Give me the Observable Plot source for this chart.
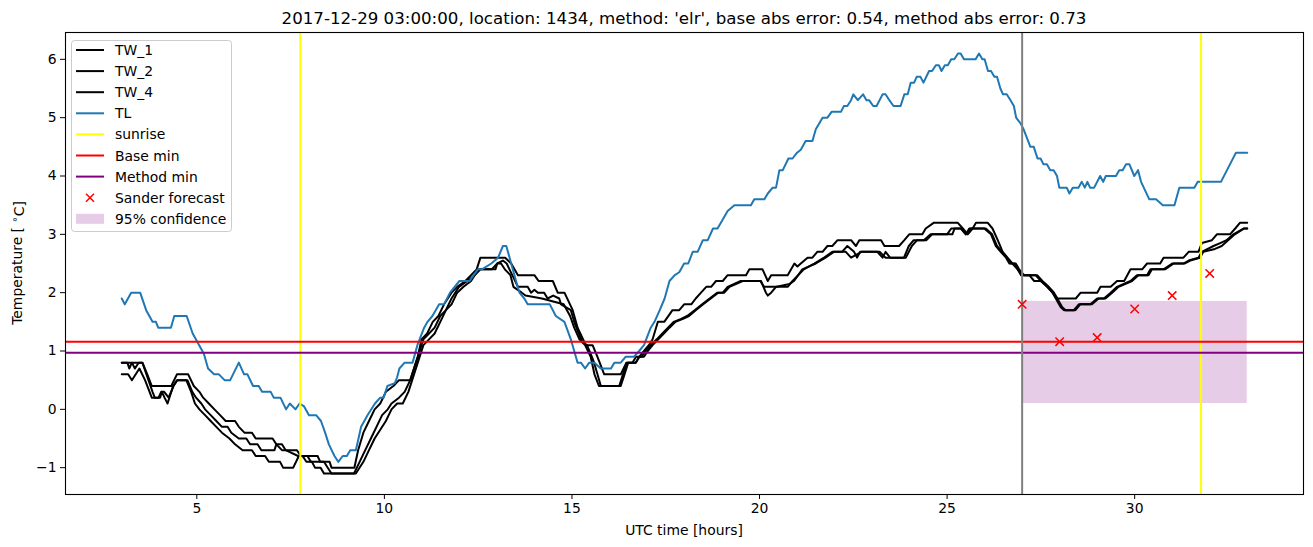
<!DOCTYPE html>
<html><head><meta charset="utf-8">
<script src="https://cdn.jsdelivr.net/npm/d3@7"></script>
<script src="https://cdn.jsdelivr.net/npm/@observablehq/plot@0.6"></script>
<style>body{margin:0;background:#fff} svg{display:block}</style>
</head><body><div id="chart"></div>
<script>
// [hour, temperature] pairs
const TW_1 = [[3.0,0.8],[3.55,0.8],[3.68,0.6],[3.8,0.4],[4.32,0.4],[4.47,0.6],[4.77,0.6],[4.92,0.4],[5.07,0.3],[5.17,0.2],[5.32,0.1],[5.47,0.0],[5.62,-0.1],[5.77,-0.2],[6.02,-0.2],[6.12,-0.3],[6.27,-0.4],[6.47,-0.4],[6.57,-0.5],[7.02,-0.5],[7.12,-0.6],[7.27,-0.7],[7.67,-0.7],[7.77,-0.8],[8.22,-0.8],[8.29,-0.9],[8.54,-0.9],[8.59,-1.0],[9.2,-1.0],[9.3,-0.7],[9.44,-0.4],[9.59,-0.2],[9.74,0.0],[9.89,0.1],[10.04,0.3],[10.24,0.4],[10.39,0.5],[10.69,0.5],[10.79,0.7],[10.89,0.9],[10.99,1.2],[11.14,1.3],[11.29,1.5],[11.44,1.6],[11.59,1.8],[11.79,2.0],[11.94,2.1],[12.16,2.2],[12.31,2.3],[12.46,2.4],[12.56,2.6],[13.22,2.6],[13.38,2.5],[13.56,2.3],[14.0,2.3],[14.11,2.2],[14.49,2.2],[14.62,2.0],[14.8,2.0],[15.02,1.7],[15.15,1.4],[15.37,1.1],[15.55,1.1],[15.68,0.9],[15.86,0.6],[16.3,0.6],[16.45,0.8],[16.7,0.8],[16.79,0.9],[16.92,1.0],[17.05,1.1],[17.15,1.2],[17.29,1.5],[17.46,1.5],[17.68,1.7],[17.86,1.7],[17.99,1.8],[18.18,1.8],[18.3,1.9],[18.44,2.0],[18.58,2.1],[18.71,2.1],[18.84,2.2],[19.02,2.2],[19.15,2.3],[19.64,2.3],[19.73,2.4],[20.08,2.4],[20.22,2.2],[20.31,2.3],[20.75,2.3],[20.93,2.5],[21.01,2.45],[21.1,2.5],[21.28,2.6],[21.41,2.6],[21.54,2.7],[21.68,2.7],[21.81,2.8],[21.94,2.8],[22.08,2.9],[22.44,2.9],[22.57,2.8],[22.66,2.9],[23.24,2.9],[23.33,2.8],[23.72,2.8],[23.86,2.9],[23.99,3.0],[24.34,3.0],[24.43,3.1],[24.65,3.2],[25.28,3.2],[25.42,3.1],[25.55,3.0],[25.68,3.1],[25.77,3.2],[26.08,3.2],[26.21,3.1],[26.35,2.9],[26.48,2.7],[26.61,2.6],[26.74,2.5],[26.88,2.4],[26.97,2.3],[27.19,2.3],[27.32,2.2],[27.5,2.2],[27.67,2.1],[27.81,2.0],[27.94,1.9],[28.43,1.9],[28.56,2.0],[29.0,2.0],[29.09,2.1],[29.36,2.1],[29.53,2.2],[29.72,2.2],[29.89,2.4],[30.2,2.4],[30.33,2.5],[30.68,2.5],[30.77,2.6],[31.3,2.6],[31.44,2.7],[31.7,2.7],[31.79,2.85],[32.06,2.9],[32.19,3.0],[32.54,3.0],[32.68,3.1],[32.81,3.2],[33.0,3.2]];
const TW_2 = [[3.0,0.8],[3.15,0.8],[3.2,0.7],[3.27,0.8],[3.35,0.7],[3.45,0.8],[3.55,0.8],[3.82,0.3],[3.88,0.2],[3.98,0.2],[4.05,0.3],[4.13,0.3],[4.25,0.2],[4.38,0.4],[4.48,0.5],[4.75,0.5],[4.88,0.3],[4.98,0.2],[5.12,0.1],[5.22,0.0],[5.37,-0.1],[5.52,-0.2],[5.67,-0.3],[5.82,-0.3],[5.92,-0.4],[6.12,-0.5],[6.32,-0.5],[6.42,-0.6],[6.62,-0.6],[6.72,-0.7],[7.07,-0.7],[7.12,-0.6],[7.27,-0.6],[7.37,-0.7],[7.7,-0.8],[7.95,-0.8],[8.04,-0.9],[8.39,-0.9],[8.49,-1.0],[8.59,-1.1],[9.19,-1.1],[9.34,-0.9],[9.49,-0.7],[9.64,-0.5],[9.79,-0.3],[9.94,-0.1],[10.09,0.0],[10.19,0.1],[10.39,0.2],[10.54,0.3],[10.69,0.5],[10.84,0.8],[10.94,1.0],[11.04,1.2],[11.19,1.3],[11.34,1.4],[11.49,1.6],[11.64,1.7],[11.79,1.9],[11.99,2.1],[12.21,2.2],[12.41,2.3],[12.56,2.4],[12.86,2.4],[13.01,2.5],[13.16,2.55],[13.26,2.5],[13.41,2.3],[13.56,2.1],[13.82,2.1],[13.91,2.0],[14.0,2.05],[14.09,2.0],[14.26,2.0],[14.35,1.9],[14.5,1.95],[14.66,1.9],[14.71,1.8],[14.97,1.7],[15.06,1.5],[15.15,1.35],[15.28,1.15],[15.4,1.1],[15.5,0.95],[15.59,0.8],[15.68,0.6],[15.77,0.4],[16.26,0.4],[16.36,0.6],[16.46,0.8],[16.61,0.8],[16.71,0.9],[16.86,0.9],[16.96,1.0],[17.1,1.1],[17.26,1.2],[17.41,1.3],[17.56,1.4],[17.71,1.5],[17.91,1.55],[18.07,1.6],[18.27,1.7],[18.47,1.8],[18.67,1.9],[18.87,2.0],[19.02,2.0],[19.15,2.1],[19.5,2.2],[20.04,2.2],[20.17,2.0],[20.22,1.95],[20.31,2.0],[20.44,2.1],[20.75,2.1],[20.88,2.2],[21.18,2.4],[21.46,2.5],[21.72,2.6],[21.94,2.7],[22.2,2.7],[22.34,2.8],[22.52,2.7],[22.6,2.6],[22.68,2.7],[23.14,2.7],[23.28,2.6],[23.36,2.7],[23.48,2.6],[23.85,2.6],[23.98,2.8],[24.11,2.9],[24.38,2.9],[24.56,3.0],[25.0,3.0],[25.11,3.1],[25.37,3.1],[25.5,3.0],[25.59,3.1],[25.99,3.1],[26.17,3.0],[26.3,2.8],[26.43,2.7],[26.57,2.6],[26.66,2.5],[26.79,2.5],[26.88,2.4],[27.01,2.3],[27.36,2.3],[27.5,2.2],[27.67,2.1],[27.81,2.0],[28.03,1.75],[28.12,1.7],[28.38,1.7],[28.51,1.8],[28.82,1.8],[29.0,1.9],[29.18,1.9],[29.36,2.0],[29.53,2.1],[29.89,2.2],[30.06,2.3],[30.33,2.3],[30.42,2.4],[30.77,2.4],[31.0,2.5],[31.3,2.5],[31.44,2.55],[31.7,2.6],[31.79,2.7],[32.1,2.8],[32.28,2.85],[32.45,2.9],[32.63,3.0],[32.9,3.1],[33.0,3.1]];
const TW_4 = [[3.0,0.6],[3.17,0.6],[3.27,0.5],[3.47,0.7],[3.62,0.5],[3.8,0.2],[4.02,0.2],[4.07,0.3],[4.14,0.2],[4.22,0.1],[4.37,0.4],[4.47,0.5],[4.72,0.5],[4.85,0.3],[4.95,0.1],[5.07,0.0],[5.22,-0.1],[5.37,-0.2],[5.52,-0.3],[5.67,-0.4],[5.87,-0.5],[6.02,-0.6],[6.22,-0.7],[6.47,-0.7],[6.57,-0.8],[6.82,-0.8],[6.92,-0.9],[7.22,-0.9],[7.3,-1.0],[7.57,-1.0],[7.72,-0.8],[7.82,-0.8],[7.92,-0.9],[8.07,-0.9],[8.15,-1.0],[8.3,-1.0],[8.39,-1.1],[9.24,-1.1],[9.44,-0.9],[9.59,-0.7],[9.74,-0.5],[9.89,-0.35],[10.04,-0.2],[10.19,0.0],[10.34,0.1],[10.49,0.1],[10.64,0.3],[10.79,0.6],[10.89,0.8],[11.04,1.1],[11.19,1.2],[11.34,1.3],[11.49,1.5],[11.64,1.7],[11.79,1.8],[11.94,2.0],[12.11,2.1],[12.31,2.2],[12.51,2.4],[12.96,2.4],[13.01,2.5],[13.11,2.5],[13.21,2.4],[13.36,2.3],[13.44,2.1],[13.66,2.0],[13.76,1.95],[14.2,1.9],[14.5,1.85],[14.78,1.8],[14.95,1.6],[15.06,1.4],[15.2,1.2],[15.35,1.1],[15.5,0.9],[15.6,0.6],[15.72,0.4],[16.3,0.4],[16.4,0.6],[16.5,0.8],[16.7,0.8],[16.8,0.9],[16.92,0.9],[17.02,1.0],[17.15,1.1],[17.3,1.2],[17.45,1.3],[17.6,1.4],[17.76,1.5],[17.96,1.55],[18.12,1.6],[18.3,1.7],[18.5,1.8],[18.7,1.9],[18.9,2.0],[19.06,2.0],[19.2,2.1],[19.55,2.2],[20.02,2.2],[20.12,2.1],[20.46,2.1],[20.8,2.15],[20.92,2.2],[21.14,2.4],[21.5,2.5],[21.76,2.6],[21.98,2.7],[22.3,2.7],[22.44,2.6],[22.72,2.7],[23.2,2.7],[23.36,2.6],[23.9,2.6],[24.06,2.8],[24.2,2.9],[24.45,2.9],[24.6,3.0],[25.14,3.0],[25.2,3.1],[25.37,3.1],[25.5,3.0],[25.63,3.1],[26.03,3.1],[26.2,3.0],[26.33,2.8],[26.47,2.7],[26.6,2.6],[26.7,2.5],[26.83,2.5],[26.92,2.4],[27.05,2.3],[27.4,2.3],[27.54,2.2],[27.71,2.1],[27.85,2.0],[28.07,1.75],[28.16,1.7],[28.42,1.7],[28.55,1.8],[28.86,1.8],[29.04,1.9],[29.22,1.9],[29.4,2.0],[29.57,2.1],[29.93,2.2],[30.1,2.3],[30.37,2.3],[30.46,2.4],[30.81,2.4],[31.04,2.5],[31.34,2.5],[31.48,2.55],[31.74,2.6],[31.83,2.7],[32.14,2.75],[32.32,2.8],[32.49,2.9],[32.67,3.0],[32.92,3.1],[33.0,3.1]];
const TL = [[3.0,1.9],[3.08,1.8],[3.25,2.0],[3.49,2.0],[3.65,1.7],[3.82,1.5],[3.91,1.5],[3.97,1.4],[4.31,1.4],[4.4,1.6],[4.73,1.6],[4.89,1.3],[5.02,1.15],[5.19,0.95],[5.3,0.7],[5.46,0.6],[5.59,0.6],[5.74,0.5],[5.89,0.5],[6.12,0.8],[6.26,0.6],[6.35,0.6],[6.5,0.4],[6.65,0.4],[6.74,0.3],[6.97,0.3],[7.05,0.2],[7.23,0.2],[7.38,0.0],[7.48,0.1],[7.63,0.0],[7.74,0.1],[7.86,0.05],[7.99,-0.1],[8.18,-0.1],[8.31,-0.2],[8.42,-0.4],[8.52,-0.6],[8.67,-0.8],[8.77,-0.9],[8.89,-0.8],[9.0,-0.8],[9.09,-0.7],[9.24,-0.7],[9.38,-0.3],[9.55,-0.1],[9.75,0.1],[9.89,0.2],[9.98,0.2],[10.08,0.4],[10.28,0.45],[10.34,0.55],[10.4,0.7],[10.54,0.8],[10.75,0.8],[10.88,1.1],[11.06,1.4],[11.15,1.5],[11.28,1.6],[11.46,1.8],[11.59,1.8],[11.75,2.0],[12.0,2.2],[12.27,2.2],[12.49,2.4],[12.6,2.4],[12.85,2.5],[13.03,2.6],[13.16,2.8],[13.25,2.8],[13.38,2.5],[13.51,2.2],[13.6,2.0],[13.73,1.9],[13.82,1.8],[14.41,1.8],[14.57,1.6],[14.8,1.5],[14.97,1.2],[15.06,1.0],[15.15,0.8],[15.24,0.8],[15.35,0.7],[15.46,0.8],[15.6,0.8],[15.77,0.7],[16.04,0.7],[16.13,0.8],[16.3,0.8],[16.43,0.9],[16.65,0.9],[16.79,1.0],[16.92,1.1],[17.1,1.4],[17.2,1.5],[17.34,1.7],[17.47,1.9],[17.6,2.2],[17.74,2.3],[17.86,2.35],[17.99,2.5],[18.1,2.5],[18.22,2.7],[18.35,2.7],[18.49,2.9],[18.62,2.9],[18.76,3.1],[18.88,3.1],[18.97,3.2],[19.15,3.4],[19.33,3.5],[19.77,3.5],[19.86,3.6],[20.13,3.6],[20.22,3.7],[20.35,3.8],[20.44,3.8],[20.53,4.1],[20.62,4.1],[20.77,4.3],[20.88,4.3],[21.0,4.4],[21.1,4.45],[21.23,4.6],[21.41,4.6],[21.5,4.8],[21.68,5.0],[21.81,5.0],[21.92,5.1],[22.17,5.1],[22.25,5.2],[22.34,5.2],[22.44,5.3],[22.5,5.4],[22.62,5.3],[22.76,5.4],[22.85,5.3],[22.92,5.3],[23.03,5.2],[23.12,5.2],[23.28,5.4],[23.36,5.4],[23.46,5.3],[23.57,5.2],[23.76,5.2],[23.86,5.4],[23.95,5.4],[24.03,5.6],[24.12,5.6],[24.19,5.7],[24.29,5.7],[24.37,5.6],[24.52,5.8],[24.6,5.8],[24.7,5.9],[24.78,5.9],[24.85,5.8],[24.94,5.9],[25.02,5.9],[25.11,6.0],[25.19,6.0],[25.29,6.1],[25.36,6.1],[25.45,6.0],[25.76,6.0],[25.85,6.1],[25.94,6.0],[26.0,6.0],[26.09,5.8],[26.17,5.8],[26.26,5.7],[26.33,5.7],[26.42,5.5],[26.49,5.4],[26.59,5.4],[26.69,5.3],[26.78,5.2],[26.84,5.0],[26.96,4.9],[27.04,4.8],[27.13,4.65],[27.22,4.5],[27.31,4.5],[27.41,4.3],[27.49,4.3],[27.57,4.2],[27.66,4.2],[27.75,4.1],[27.84,4.1],[27.93,4.0],[27.99,3.8],[28.19,3.8],[28.26,3.7],[28.35,3.8],[28.5,3.8],[28.59,3.9],[28.67,3.8],[28.74,3.9],[28.81,3.8],[28.92,3.8],[29.08,4.0],[29.16,3.9],[29.23,4.0],[29.5,4.0],[29.59,4.1],[29.68,4.1],[29.77,4.2],[29.86,4.2],[29.99,4.0],[30.09,4.1],[30.17,3.9],[30.39,3.6],[30.57,3.6],[30.75,3.5],[31.06,3.5],[31.19,3.8],[31.59,3.8],[31.68,3.9],[32.3,3.9],[32.7,4.4],[33.0,4.4]];

const sunriseHours = [7.76, 31.77];
const baseMin = 1.16;
const methodMin = 0.97;
const forecastHours = [27, 28, 29, 30, 31, 32];
const forecastTemps = [1.80, 1.16, 1.23, 1.72, 1.95, 2.33];
const confidence = {start: 27, end: 33, low: 0.10, high: 1.85};
const nowHour = 27;
const xTicks = [5, 10, 15, 20, 25, 30];
const yTicks = [-1, 0, 1, 2, 3, 4, 5, 6];
const titleText = "2017-12-29 03:00:00, location: 1434, method: 'elr', base abs error: 0.54, method abs error: 0.73";
const xLabel = "UTC time [hours]";
const legendLabels = ["TW_1", "TW_2", "TW_4", "TL", "sunrise", "Base min", "Method min", "Sander forecast", "95% confidence"];

const rows = pairs => pairs.map(([h, t]) => ({h, t}));
const forecast = forecastHours.map((h, i) => ({h, t: forecastTemps[i]}));
const fmt = d => d < 0 ? "\u2212" + Math.abs(d) : String(d);
const FONT = "DejaVu Sans, sans-serif";

const chart = Plot.plot({
  width: 1313, height: 547,
  marginLeft: 65, marginRight: 10, marginTop: 32, marginBottom: 53,
  style: {fontFamily: FONT, fontSize: "13.9px", color: "black", background: "white"},
  x: {domain: [1.5, 34.5], ticks: xTicks, tickFormat: fmt, tickSize: 5, tickPadding: 4, label: null},
  y: {domain: [-1.46, 6.46], ticks: yTicks, tickFormat: fmt, tickSize: 5, tickPadding: 4, label: null},
  marks: [
    Plot.rect([confidence], {x1: "start", x2: "end", y1: "low", y2: "high", fill: "purple", fillOpacity: 0.2}),
    Plot.line(rows(TW_1), {x: "h", y: "t", stroke: "black", strokeWidth: 2}),
    Plot.line(rows(TW_2), {x: "h", y: "t", stroke: "black", strokeWidth: 2}),
    Plot.line(rows(TW_4), {x: "h", y: "t", stroke: "black", strokeWidth: 2}),
    Plot.line(rows(TL), {x: "h", y: "t", stroke: "#1f77b4", strokeWidth: 2}),
    Plot.ruleX(sunriseHours, {stroke: "#ffff00", strokeWidth: 2}),
    Plot.ruleY([baseMin], {stroke: "red", strokeWidth: 2}),
    Plot.ruleY([methodMin], {stroke: "purple", strokeWidth: 2}),
    Plot.ruleX([nowHour], {stroke: "gray", strokeWidth: 2}),
    Plot.dot(forecast, {x: "h", y: "t", symbol: "times", stroke: "red", fill: "none", r: 3.9, strokeWidth: 1.5}),
    Plot.frame({stroke: "black", strokeWidth: 1.1})
  ]
});

const svg = d3.select(chart);
svg.append("text").attr("x", 684).attr("y", 24).attr("text-anchor", "middle")
  .attr("font-family", FONT).attr("font-size", "16.67px").attr("fill", "black").text(titleText);
svg.append("text").attr("x", 684).attr("y", 535).attr("text-anchor", "middle")
  .attr("font-family", FONT).attr("font-size", "13.9px").attr("fill", "black").text(xLabel);
const yl = svg.append("text").attr("transform", "translate(22,263) rotate(-90)").attr("text-anchor", "middle")
  .attr("font-family", FONT).attr("font-size", "13.9px").attr("fill", "black");
yl.append("tspan").text("Temperature [ ");
yl.append("tspan").attr("dy", "-0.45em").attr("font-size", "10px").text("\u2218");
yl.append("tspan").attr("dy", "0.45em").text("C]");

// legend
const lg = svg.append("g").attr("text-anchor", "start");
lg.append("rect").attr("x", 71.5).attr("y", 40.5).attr("width", 160).attr("height", 191).attr("rx", 3)
  .attr("fill", "white").attr("fill-opacity", 0.8).attr("stroke", "#cccccc");
const legendStyles = [
  {type: "line", color: "black"}, {type: "line", color: "black"}, {type: "line", color: "black"},
  {type: "line", color: "#1f77b4"}, {type: "line", color: "#ffff00"}, {type: "line", color: "red"},
  {type: "line", color: "purple"}, {type: "x", color: "red"}, {type: "patch", color: "purple"}
];
legendLabels.forEach((lab, i) => {
  const cy = 50 + i * 21.1;
  const s = legendStyles[i];
  if (s.type === "line") {
    lg.append("line").attr("x1", 76).attr("x2", 104).attr("y1", cy).attr("y2", cy)
      .attr("stroke", s.color).attr("stroke-width", 2);
  } else if (s.type === "x") {
    const c = 90, r = 4;
    lg.append("path").attr("d", `M${c-r},${cy-r}L${c+r},${cy+r}M${c-r},${cy+r}L${c+r},${cy-r}`)
      .attr("stroke", s.color).attr("stroke-width", 1.5).attr("fill", "none");
  } else {
    lg.append("rect").attr("x", 76).attr("y", cy - 5).attr("width", 28).attr("height", 10)
      .attr("fill", s.color).attr("fill-opacity", 0.2);
  }
  lg.append("text").attr("x", 115).attr("y", cy).attr("dy", "0.36em").attr("text-anchor", "start")
    .attr("font-family", FONT).attr("font-size", "13.9px").attr("fill", "black").text(lab);
});

document.getElementById("chart").appendChild(chart);
</script>
</body></html>
